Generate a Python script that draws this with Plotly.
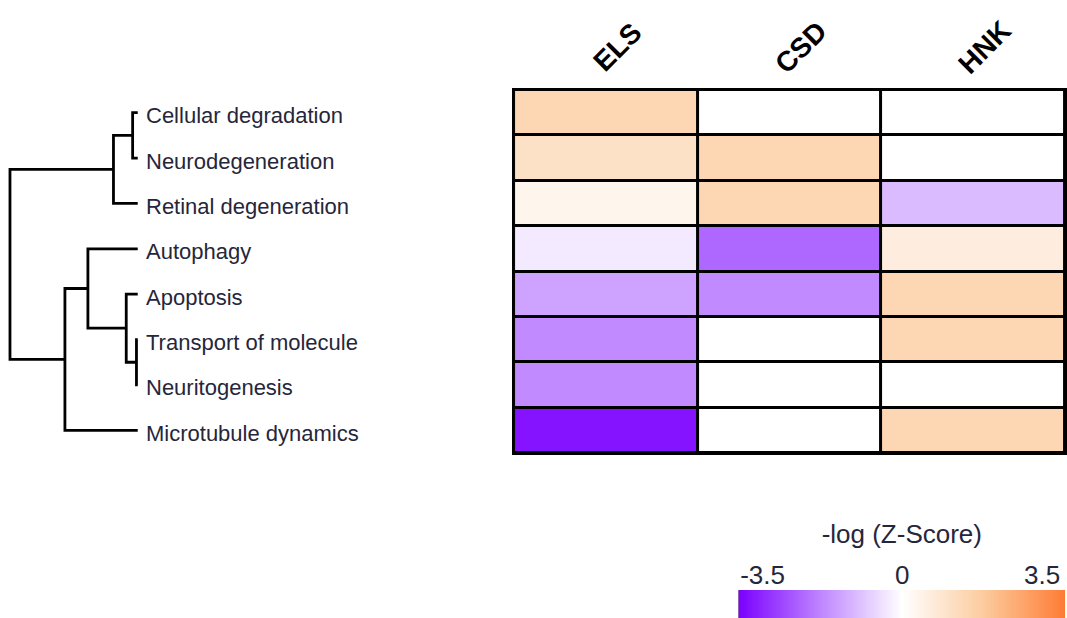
import numpy as np
import plotly.graph_objects as go

# Pathway categories (top to bottom) and treatment groups
pathways = [
    "Cellular degradation",
    "Neurodegeneration",
    "Retinal degeneration",
    "Autophagy",
    "Apoptosis",
    "Transport of molecule",
    "Neuritogenesis",
    "Microtubule dynamics",
]
groups = ["ELS", "CSD", "HNK"]

# -log(Z-score) per pathway, one list per group
els_scores = [1.6, 1.2, 0.4, -0.35, -1.55, -1.95, -1.95, -3.8]
csd_scores = [0.0, 1.6, 1.6, -2.5, -1.95, 0.0, 0.0, 0.0]
hnk_scores = [0.0, 0.0, -1.15, 0.7, 1.6, 1.6, 0.0, 1.6]

# Hierarchical clustering of the pathways: (left node, right node, merge height)
# leaves are 0..7, merged nodes numbered from 8 upward
linkage = [
    (0, 1, 0.04),
    (8, 2, 0.19),
    (5, 6, 0.01),
    (4, 10, 0.09),
    (3, 11, 0.39),
    (12, 7, 0.57),
    (9, 13, 1.00),
]

# Colour scale limits and legend ticks
zlim = 4.1
legend_ticks = [-3.5, 0, 3.5]
legend_ticktext = ["-3.5", "0", "3.5"]

W, H = 1067, 618
colorscale = [
    [0.0, "#7B00FF"],
    [0.25, "#BE85FF"],
    [0.5, "#FFFFFF"],
    [0.75, "#FCCB9E"],
    [1.0, "#FF7B33"],
]
text_color = "#26263a"
label_font = "Liberation Sans, Arial, sans-serif"

z = [list(r) for r in zip(els_scores, csd_scores, hnk_scores)]
rows = list(range(len(pathways)))

fig = go.Figure()

# Heatmap of scores
fig.add_trace(go.Heatmap(
    z=z, x=list(range(len(groups))), y=rows,
    colorscale=colorscale, zmin=-zlim, zmax=zlim,
    xgap=3, ygap=3, showscale=False,
    hovertemplate="%{customdata}<extra></extra>",
    customdata=[[f"{pathways[i]} / {g}: {z[i][j]}" for j, g in enumerate(groups)] for i in rows],
    xaxis="x", yaxis="y",
))

# Dendrogram drawn as U-shaped links
node_y = {i: float(i) for i in rows}
node_h = {i: 0.0 for i in rows}
dx, dy = [], []
for k, (a, b, h) in enumerate(linkage):
    nid = len(pathways) + k
    dx += [node_h[a], h, h, node_h[b], None]
    dy += [node_y[a], node_y[a], node_y[b], node_y[b], None]
    node_y[nid] = (node_y[a] + node_y[b]) / 2
    node_h[nid] = h
fig.add_trace(go.Scatter(
    x=dx, y=dy, mode="lines",
    line=dict(color="black", width=2.8),
    hoverinfo="skip", showlegend=False,
    xaxis="x2", yaxis="y2",
))

# Colour legend ramp
ramp = np.linspace(-zlim, zlim, 300)
fig.add_trace(go.Heatmap(
    z=[ramp], x=ramp, y=[0],
    colorscale=colorscale, zmin=-zlim, zmax=zlim,
    showscale=False, hoverinfo="skip",
    xaxis="x3", yaxis="y3",
))

hm_top, hm_bottom = 90, 453
ydom = [1 - hm_bottom / H, 1 - hm_top / H]
px_per_unit = 128.0
leaf_px = 138.0

fig.update_layout(
    width=W, height=H,
    margin=dict(l=0, r=0, t=0, b=0),
    paper_bgcolor="white",
    plot_bgcolor="black",
    showlegend=False,
    xaxis=dict(domain=[515 / W, 1.0], range=[-0.5, 2.5], showticklabels=False,
               showgrid=False, zeroline=False, ticks="",
               showline=True, linecolor="black", linewidth=2, mirror=True),
    yaxis=dict(domain=ydom, range=[len(pathways) - 0.5, -0.5], showticklabels=False,
               showgrid=False, zeroline=False, ticks="",
               showline=True, linecolor="black", linewidth=2, mirror=True),
    xaxis2=dict(domain=[0, 515 / W], anchor="y2",
                range=[leaf_px / px_per_unit, (leaf_px - 515) / px_per_unit],
                visible=False),
    yaxis2=dict(domain=ydom, anchor="x2", range=[len(pathways) - 0.5, -0.5],
                visible=False),
    xaxis3=dict(domain=[740 / W, 1.0], anchor="y3", side="top",
                range=[-zlim, -zlim + (W - 740) / 40.0],
                tickvals=legend_ticks, ticktext=legend_ticktext, ticks="",
                tickfont=dict(size=26, color=text_color, family=label_font),
                showgrid=False, zeroline=False, showline=False,
                title=dict(text="-log (Z-Score)", standoff=8,
                           font=dict(size=26, color=text_color, family=label_font))),
    yaxis3=dict(domain=[0, 28 / H], anchor="x3", range=[-0.5, 0.5], visible=False),
)

# White background behind the dendrogram area
fig.add_shape(type="rect", xref="paper", yref="paper", x0=0, x1=515 / W - 0.0001,
              y0=ydom[0], y1=ydom[1], fillcolor="white", line_width=0, layer="below")

annotations = []
# Pathway labels beside the dendrogram leaves
for i, name in enumerate(pathways):
    annotations.append(dict(
        x=-(144 - leaf_px) / px_per_unit, y=i, xref="x2", yref="y2",
        text=name, showarrow=False, xanchor="left", yanchor="middle", yshift=-3,
        font=dict(size=22, color=text_color, family=label_font),
    ))
# Rotated group headers
for j, g in enumerate(groups):
    annotations.append(dict(
        x=j, y=1 - 47 / H, xref="x", yref="paper",
        text=f"<b>{g}</b>", showarrow=False, textangle=-45,
        xanchor="center", yanchor="middle", xshift=11,
        font=dict(size=28, color="black", family=label_font),
    ))
fig.update_layout(annotations=annotations)

fig.write_html("out.html")
